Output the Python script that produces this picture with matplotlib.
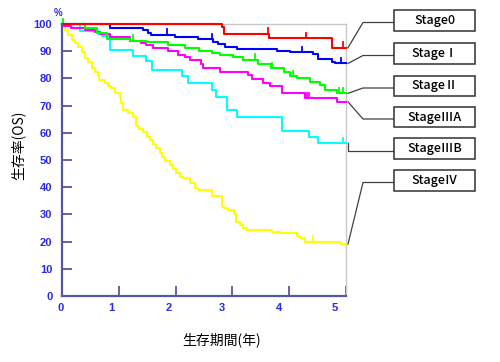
import matplotlib
matplotlib.use("Agg")
import matplotlib.pyplot as plt
from matplotlib.patches import Rectangle
from matplotlib.lines import Line2D
import matplotlib.transforms as mtransforms
import numpy as np

# Kaplan-Meier style survival data (years, %)
stages = ["Stage0", "StageⅠ", "StageⅡ", "StageⅢA", "StageⅢB", "StageⅣ"]
colors = ["#ff0000", "#0000ff", "#00ff00", "#ff00ff", "#00ffff", "#ffff00"]

t_stage0 = [0, 2.81, 2.85, 3.64, 4.76]
s_stage0 = [100, 98.9, 96.5, 94.8, 91.3]
c_stage0 = [3.63, 4.29, 4.94]

t_stage1 = [0, 0.85, 1.43, 1.51, 1.57, 1.99, 2.39, 2.66, 2.75, 2.87, 3.08, 3.78,
            4.01, 4.42, 4.51, 4.75, 4.81]
s_stage1 = [100, 98.5, 97.8, 96.7, 96.1, 95.1, 94.4, 93.5, 92.6, 91.7, 90.8, 90.2,
            89.6, 88.9, 87.0, 86.1, 85.5]
c_stage1 = [1.85, 2.64, 4.23, 4.91]

t_stage2 = [0, 0.41, 0.62, 0.79, 1.20, 1.48, 1.87, 2.17, 2.42, 2.64, 2.78, 3.01,
            3.19, 3.45, 3.68, 3.90, 4.01, 4.13, 4.37, 4.54, 4.63, 4.84]
s_stage2 = [100, 98.5, 96.7, 94.6, 93.9, 93.4, 92.4, 91.2, 90.2, 89.3, 88.5, 87.8,
            86.9, 85.3, 83.7, 82.5, 80.9, 80.0, 78.8, 77.6, 75.7, 74.5]
c_stage2 = [0.02, 1.25, 3.40, 3.69, 4.06, 4.88, 4.95]

t_stage3a = [0, 0.04, 0.16, 0.41, 0.58, 0.67, 0.85, 1.20, 1.39, 1.48, 1.60, 1.87,
             2.04, 2.16, 2.25, 2.45, 2.49, 2.78, 3.28, 3.34, 3.54, 3.66, 3.87, 4.28, 4.84]
s_stage3a = [100, 99.2, 98.5, 97.8, 96.9, 96.2, 95.1, 93.9, 93.0, 92.2, 91.2, 90.0,
             88.7, 87.8, 86.9, 85.3, 83.7, 82.5, 81.3, 79.7, 78.4, 77.2, 74.5, 72.7, 71.4]
c_stage3a = [4.31, 4.35]

t_stage3b = [0, 0.31, 0.63, 0.70, 0.84, 1.25, 1.48, 1.59, 2.11, 2.22, 2.64, 2.72,
             2.90, 3.08, 3.87, 4.34, 4.51]
s_stage3b = [100, 97.3, 96.3, 95.5, 90.6, 88.1, 86.4, 83.1, 80.9, 78.2, 75.7, 73.3,
             68.4, 65.7, 60.8, 58.3, 56.1]
c_stage3b = [4.94]

t_stage4 = [0, 0.02, 0.05, 0.11, 0.17, 0.23, 0.29, 0.35, 0.40, 0.46,
            0.52, 0.58, 0.63, 0.66, 0.75, 0.81, 0.87, 0.93, 1.02, 1.04,
            1.07, 1.16, 1.25, 1.31, 1.36, 1.43, 1.49, 1.55, 1.60, 1.66,
            1.72, 1.76, 1.81, 1.90, 1.95, 2.01, 2.08, 2.13, 2.25, 2.34,
            2.39, 2.64, 2.81, 2.85, 2.93, 3.02, 3.06, 3.13, 3.19, 3.26,
            3.69, 3.84, 4.13, 4.19, 4.28, 4.92]
s_stage4 = [100, 98.9, 97.8, 96.0, 94.1, 93.0, 91.7, 89.7, 87.4, 86.0,
            83.7, 82.4, 80.9, 79.4, 78.2, 77.2, 76.4, 74.5, 73.2, 71.0,
            68.4, 67.2, 65.9, 62.5, 61.4, 60.4, 58.6, 57.4, 55.9, 54.4,
            52.5, 51.1, 49.6, 48.2, 46.7, 45.1, 43.9, 43.3, 41.4, 39.6,
            39.0, 36.8, 32.8, 32.4, 31.6, 30.1, 27.3, 26.1, 24.9, 24.3,
            23.7, 23.1, 22.2, 21.2, 20.0, 19.1]
c_stage4 = [4.42]

times = [t_stage0, t_stage1, t_stage2, t_stage3a, t_stage3b, t_stage4]
surv = [s_stage0, s_stage1, s_stage2, s_stage3a, s_stage3b, s_stage4]
censor = [c_stage0, c_stage1, c_stage2, c_stage3a, c_stage3b, c_stage4]

x_ticks = [0, 1, 2, 3, 4, 5]
y_ticks = [0, 10, 20, 30, 40, 50, 60, 70, 80, 90, 100]
t_end = 5.0

W, H = 500, 362
cjk = ['Noto Sans CJK JP', 'DejaVu Sans']
axis_col = "#5656a6"
tick_col = "#2a2ae6"

fig = plt.figure(figsize=(W / 100, H / 100), dpi=100)
ax = fig.add_axes([62 / W, 66 / H, 284 / W, 272 / H])

# draw curves, yellow first so the upper ones sit on top
for i in reversed(range(len(stages))):
    t = list(times[i]) + [t_end]
    s = list(surv[i]) + [surv[i][-1]]
    ax.step(t, s, where='post', color=colors[i], lw=1.5, clip_on=False, zorder=3)
    # censor marks: short upward ticks
    for c in censor[i]:
        k = np.searchsorted(times[i], c, side='right') - 1
        y = surv[i][k]
        ax.plot([c, c], [y, y + 1.9], color=colors[i], lw=1.3, clip_on=False, zorder=3)

ax.set_xlim(0, 5)
ax.set_ylim(0, 100)
ax.set_xticks(x_ticks)
ax.set_yticks(y_ticks)

for side in ['left', 'bottom']:
    ax.spines[side].set_color(axis_col)
    ax.spines[side].set_linewidth(1.6)
    ax.spines[side].set_zorder(4)
for side in ['top', 'right']:
    ax.spines[side].set_color("#c8c8c8")
    ax.spines[side].set_linewidth(1.0)

ax.tick_params(axis='both', direction='in', length=7.5, width=1.3, color=axis_col,
               labelcolor=tick_col, labelsize=8)
ax.tick_params(axis='y', pad=7)
ax.tick_params(axis='x', pad=5)
for lab in ax.get_xticklabels() + ax.get_yticklabels():
    lab.set_fontfamily('Liberation Sans')
    lab.set_fontweight('bold')

# x tick labels sit a little left of their ticks in the original
x_shift_px = [-1, -7, -7, -11, -10, -11]
for lab, dx in zip(ax.get_xticklabels(), x_shift_px):
    off = mtransforms.ScaledTranslation(dx / 100, 0, fig.dpi_scale_trans)
    lab.set_transform(lab.get_transform() + off)

fig.text(58 / W, 1 - 13 / H, "%", color=tick_col, fontsize=7, fontweight='bold',
         family='Liberation Sans', ha='center', va='center')

fig.text(18 / W, 1 - 145 / H, "生存率(OS)", rotation=90, fontsize=10,
         family=cjk, ha='center', va='center', color='black')
fig.text(222 / W, 1 - 340 / H, "生存期間(年)", fontsize=10,
         family=cjk, ha='center', va='center', color='black')

# label boxes with leader lines
box_top = [10, 43, 76, 107, 138, 170]
box_h = [21, 21, 20, 20, 21, 21]
elbow_x = [363, 363, 363, 363, 348, 363]
box_left, box_w = 394, 81

fig.canvas.draw()
to_fig = fig.transFigure.inverted()
for i, name in enumerate(stages):
    top = box_top[i]
    h = box_h[i]
    fig.patches.append(Rectangle((box_left / W, 1 - (top + h) / H), box_w / W, h / H,
                                 transform=fig.transFigure, facecolor='white',
                                 edgecolor='#303030', lw=1.1, zorder=5))
    fig.text((box_left + box_w / 2) / W, 1 - (top + h / 2) / H, name, fontsize=9,
             family=cjk, fontweight='medium', ha='center', va='center',
             color='black', zorder=6)

    px, py = ax.transData.transform((t_end, surv[i][-1]))
    sx, sy = to_fig.transform((px + 2, py))
    ly = 1 - (top + h / 2 + 2) / H
    fig.lines.append(Line2D([sx, elbow_x[i] / W, box_left / W], [sy, ly, ly],
                            transform=fig.transFigure, color='#404040', lw=0.9))

fig.savefig("out.png", dpi=100)
